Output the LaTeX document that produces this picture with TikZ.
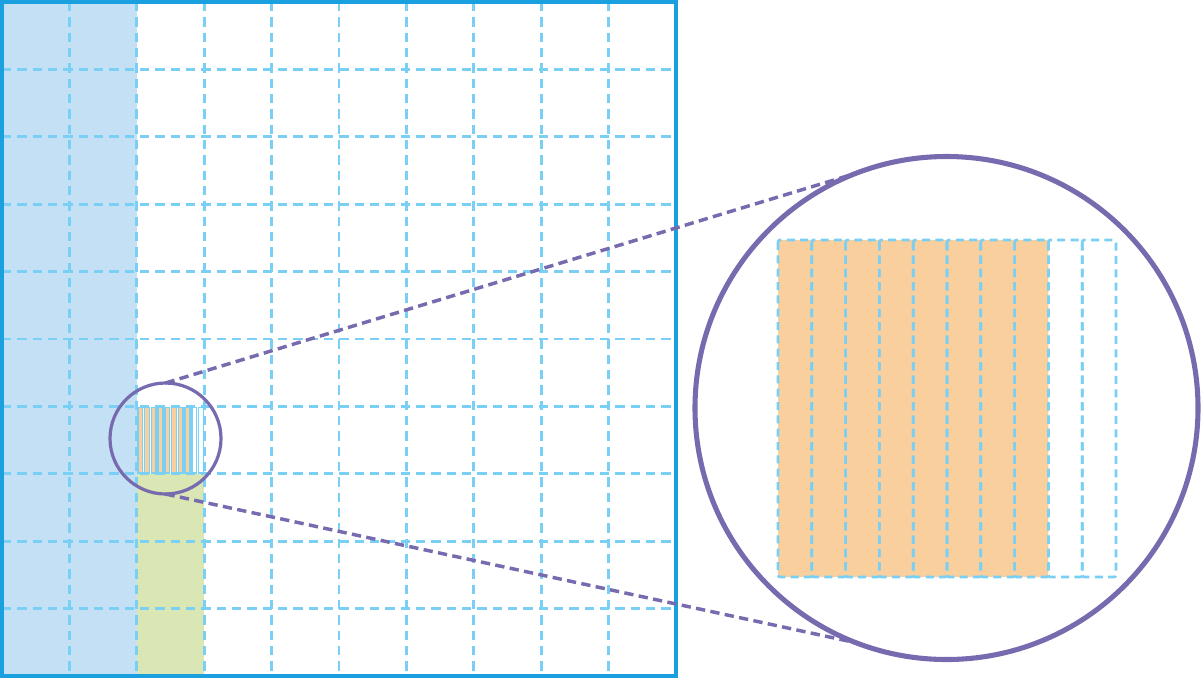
\documentclass[tikz,border=0pt]{standalone}
\usepackage{tikz}
\definecolor{gridblue}{HTML}{7ACFF4}
\definecolor{frameblue}{HTML}{1A9FDF}
\definecolor{colblue}{HTML}{C3E0F5}
\definecolor{colgreen}{HTML}{DAE6B3}
\definecolor{stripeorange}{HTML}{F8CF9D}
\definecolor{lensviolet}{HTML}{776AAF}

\begin{document}
\begin{tikzpicture}[x=0.75pt, y=-0.75pt,
    gridline/.style={draw=gridblue, line width=2.2pt, dash pattern=on 7pt off 4.5pt},
    stripline/.style={draw=gridblue, line width=2pt, dash pattern=on 6pt off 4pt, rounded corners=1.5pt},
    lens/.style={circle, draw=lensviolet, inner sep=0pt, outer sep=0pt},
    zoomline/.style={draw=lensviolet, line width=2.6pt, dash pattern=on 7pt off 4pt}]

    \useasboundingbox (0,0) rectangle (1201,679);

    % Filled columns
    \fill[colblue] (2,2) rectangle (137,676);
    \fill[colgreen] (137,474) rectangle (204,676);

    % Grid
    \foreach \k in {1,...,9} {
        \draw[gridline] ({2+67.4*\k},2) -- ({2+67.4*\k},676);
        \draw[gridline] (2,{2+67.4*\k}) -- (676,{2+67.4*\k});
    }
    \draw[frameblue, line width=2.8pt] (2,2) rectangle (676,676);

    % Small stripes in the cell
    \foreach \i [evaluate=\i as \xa using 137+6.74*\i] in {0,...,9} {
        \ifnum\i<8
            \draw[gridblue, fill=stripeorange, line width=1.1pt] ({\xa+1},407.5) rectangle ({\xa+5.7},473);
        \else
            \draw[gridblue, line width=1.1pt] ({\xa+1},407.5) rectangle ({\xa+5.7},473);
        \fi
    }

    % Enlarged stripes
    \fill[stripeorange, rounded corners=1.5pt] (778,240) rectangle (1048.4,577);
    \foreach \i [evaluate=\i as \xb using 778+33.8*\i] in {0,...,9} {
        \draw[stripline] (\xb,240) rectangle ({\xb+33.8},577);
    }

    % Lenses
    \node[lens, line width=2.4pt, minimum size=83.25pt] (lensS) at (165.5,438.5) {};
    \node[lens, line width=3.8pt, minimum size=377.25pt] (lensB) at (946.5,408) {};

    % Zoom lines
    \draw[zoomline] (lensS.north) -- (lensB.111);
    \draw[zoomline] (lensS.south) -- (lensB.249);
\end{tikzpicture}
\end{document}
